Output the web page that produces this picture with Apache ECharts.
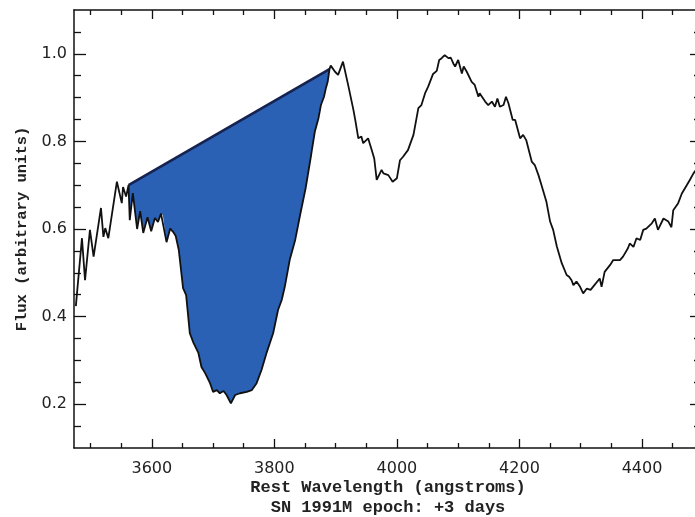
<!DOCTYPE html>
<html>
<head>
<meta charset="utf-8">
<script src="https://cdn.jsdelivr.net/npm/echarts@6/dist/echarts.min.js"></script>
<style>
html,body{margin:0;padding:0;background:#fff;}
#chart{width:695px;height:517px;}
</style>
</head>
<body>
<div id="chart"></div>
<script>
// Spectrum (rest wavelength in angstroms, flux in arbitrary units)
const wavelength = [3476,3486,3491,3499,3505,3517,3521,3524,3529,3543,3551,3553,3558,3562,3564,3569,3576,3581,3586,3593,3599,3605,3610,3615,3618,3624,3630,3635,3639,3644,3651,3656,3662,3668,3676,3681,3687,3695,3700,3706,3711,3717,3722,3729,3736,3744,3755,3763,3771,3779,3787,3798,3806,3812,3817,3825,3834,3842,3851,3860,3866,3872,3876,3881,3884,3887,3890,3892,3899,3904,3912,3921,3929,3932,3937,3942,3945,3953,3959,3963,3967,3975,3978,3986,3993,4000,4005,4010,4018,4027,4035,4040,4046,4051,4059,4065,4069,4073,4078,4084,4088,4092,4095,4100,4106,4109,4114,4122,4127,4133,4135,4144,4149,4155,4160,4164,4168,4174,4178,4182,4189,4193,4201,4206,4211,4220,4225,4231,4236,4244,4250,4255,4261,4269,4277,4281,4285,4288,4293,4299,4304,4310,4316,4320,4331,4334,4339,4348,4353,4364,4369,4377,4380,4386,4391,4397,4402,4407,4416,4421,4426,4435,4443,4448,4451,4459,4465,4473,4478,4484,4490];
const flux = [0.424,0.579,0.483,0.598,0.537,0.648,0.582,0.602,0.579,0.708,0.659,0.696,0.674,0.700,0.620,0.682,0.600,0.641,0.591,0.627,0.595,0.625,0.616,0.635,0.632,0.570,0.601,0.593,0.584,0.552,0.465,0.449,0.362,0.340,0.317,0.285,0.271,0.248,0.228,0.232,0.225,0.230,0.221,0.202,0.221,0.225,0.228,0.232,0.248,0.278,0.316,0.362,0.415,0.438,0.468,0.529,0.575,0.632,0.693,0.769,0.822,0.853,0.883,0.902,0.921,0.936,0.965,0.973,0.959,0.952,0.982,0.925,0.872,0.849,0.807,0.811,0.796,0.807,0.780,0.761,0.712,0.735,0.727,0.723,0.708,0.716,0.757,0.765,0.780,0.815,0.876,0.883,0.910,0.925,0.954,0.961,0.986,0.990,0.997,0.990,0.991,0.978,0.971,0.986,0.955,0.971,0.959,0.936,0.929,0.902,0.910,0.891,0.883,0.891,0.879,0.898,0.879,0.883,0.902,0.887,0.849,0.849,0.807,0.815,0.803,0.754,0.746,0.723,0.700,0.662,0.617,0.598,0.560,0.522,0.495,0.491,0.483,0.472,0.480,0.468,0.453,0.464,0.461,0.468,0.487,0.468,0.502,0.518,0.529,0.529,0.537,0.556,0.567,0.559,0.579,0.575,0.598,0.601,0.613,0.624,0.598,0.624,0.617,0.604,0.643,0.659,0.681,0.700,0.712,0.727,0.739];
// Continuum line across the absorption feature
const continuumWl = [3562, 3890];
const continuumFlux = [0.700, 0.965];
// Axes
const xMin = 3473, xMax = 4493;
const yMin = 0.1, yMax = 1.1;
const xMajor = [3600, 3800, 4000, 4200, 4400];
const xMinor = [3500,3550,3650,3700,3750,3850,3900,3950,4050,4100,4150,4250,4300,4350,4450];
const yMajor = [0.2, 0.4, 0.6, 0.8, 1.0];
const yMinor = [0.15,0.25,0.3,0.35,0.45,0.5,0.55,0.65,0.7,0.75,0.85,0.9,0.95,1.05];
const xTitle = 'Rest Wavelength (angstroms)';
const subTitle = 'SN 1991M epoch: +3 days';
const yTitle = 'Flux (arbitrary units)';

const spectrum = wavelength.map((w, i) => [w, flux[i]]);
const fillPts = spectrum.filter(p => p[0] >= continuumWl[0] && p[0] <= continuumWl[1]);
const continuum = continuumWl.map((w, i) => [w, continuumFlux[i]]);

const AX = '#111';
const tickFont = {fontFamily: 'DejaVu Sans', fontSize: 16, color: '#222'};

function xAx(pos, values, len, opts) {
  return Object.assign({
    type: 'value', min: xMin, max: xMax, position: pos, gridIndex: 0,
    axisLine: {show: true, onZero: false, lineStyle: {color: AX, width: 1.5}},
    axisTick: {show: true, inside: true, length: len, customValues: values, lineStyle: {color: AX, width: 1.3}},
    axisLabel: {show: false},
    splitLine: {show: false}
  }, opts || {});
}
function yAx(pos, values, len, opts) {
  return Object.assign({
    type: 'value', min: yMin, max: yMax, position: pos, gridIndex: 0,
    axisLine: {show: true, onZero: false, lineStyle: {color: AX, width: 1.5}},
    axisTick: {show: true, inside: true, length: len, customValues: values, lineStyle: {color: AX, width: 1.3}},
    axisLabel: {show: false},
    splitLine: {show: false}
  }, opts || {});
}

const chart = echarts.init(document.getElementById('chart'), null, {renderer: 'canvas'});
chart.setOption({
  animation: false,
  backgroundColor: '#fff',
  grid: {left: 74, top: 10, width: 625, height: 438, containLabel: false, outerBoundsMode: 'none'},
  xAxis: [
    xAx('bottom', xMajor, 9, {
      axisLabel: Object.assign({show: true, customValues: xMajor, margin: 13, formatter: v => String(Math.round(v))}, tickFont),
      name: xTitle + '\n' + subTitle,
      nameLocation: 'middle',
      nameGap: 30,
      nameMoveOverlap: false,
      nameTextStyle: {fontFamily: 'Liberation Mono', fontWeight: 'bold', fontSize: 17, color: '#222', lineHeight: 20, padding: [0, 0, 0, 3]}
    }),
    xAx('bottom', xMinor, 5, {axisLine: {show: false}}),
    xAx('top', xMajor, 9),
    xAx('top', xMinor, 5, {axisLine: {show: false}})
  ],
  yAxis: [
    yAx('left', yMajor, 12, {
      axisLabel: Object.assign({show: true, customValues: yMajor, margin: 7, formatter: v => v.toFixed(1)}, tickFont),
      name: yTitle,
      nameLocation: 'middle',
      nameGap: 44,
      nameRotate: 90,
      nameMoveOverlap: false,
      nameTextStyle: {fontFamily: 'Liberation Mono', fontWeight: 'bold', fontSize: 15.5, color: '#222'}
    }),
    yAx('left', yMinor, 7, {axisLine: {show: false}}),
    yAx('right', yMajor, 9),
    yAx('right', yMinor, 5, {axisLine: {show: false}})
  ],
  series: [
    {
      type: 'custom',
      name: 'absorption',
      coordinateSystem: 'cartesian2d',
      xAxisIndex: 0, yAxisIndex: 0,
      data: [[3700, 0.5]],
      z: 1,
      silent: true,
      renderItem: function (params, api) {
        const pts = fillPts.map(p => api.coord(p));
        return {type: 'polygon', shape: {points: pts}, style: {fill: '#2a61b5', stroke: null}};
      }
    },
    {
      type: 'line',
      name: 'continuum',
      xAxisIndex: 0, yAxisIndex: 0,
      data: continuum,
      symbol: 'none',
      z: 2,
      lineStyle: {color: '#16224f', width: 2.6}
    },
    {
      type: 'line',
      name: 'spectrum',
      xAxisIndex: 0, yAxisIndex: 0,
      data: spectrum,
      symbol: 'none',
      z: 3,
      lineStyle: {color: '#111', width: 1.8}
    }
  ]
});
</script>
</body>
</html>
